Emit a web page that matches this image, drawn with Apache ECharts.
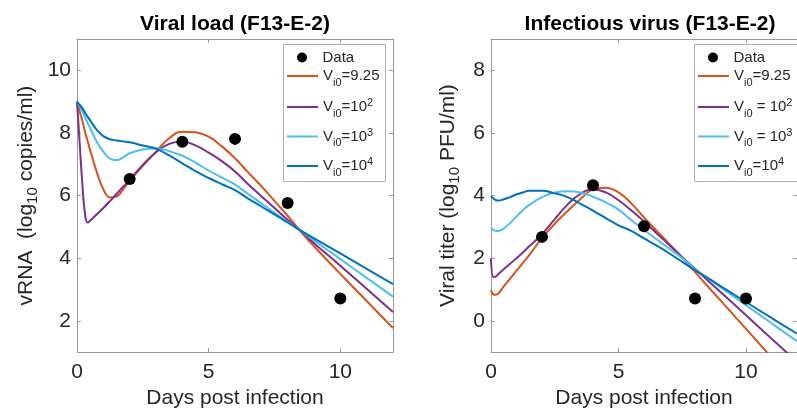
<!DOCTYPE html>
<html>
<head>
<meta charset="utf-8">
<script src="https://cdn.jsdelivr.net/npm/echarts@6/dist/echarts.min.js"></script>
<style>
  html, body { margin: 0; padding: 0; background: #fff; }
  #chart { width: 797px; height: 414px; }
</style>
</head>
<body>
<div id="chart"></div>
<script>
// data
var dataDays = [2, 4, 6, 8, 10];
var rnaData = [6.53, 7.72, 7.81, 5.76, 2.71];
var titerData = [2.68, 4.33, 3.02, 0.71, 0.71];

var rnaDays = [0, 0.1, 0.2, 0.3, 0.4, 0.5, 0.75, 1, 1.25, 1.5, 1.75, 2, 2.5, 3, 3.5, 4, 4.5, 5, 5.5, 6, 6.5, 7, 7.5, 8, 8.5, 9, 10, 11, 12];
var rnaVi925 = [9.0, 8.7, 8.4, 8.05, 7.75, 7.45, 6.75, 6.2, 5.94, 5.97, 6.2, 6.47, 6.95, 7.4, 7.83, 8.04, 8.02, 7.88, 7.57, 7.19, 6.74, 6.3, 5.83, 5.35, 4.85, 4.38, 3.5, 2.63, 1.77];
var rnaVi1e2 = [9.0, 7.7, 6.4, 5.45, 5.14, 5.2, 5.4, 5.6, 5.82, 6.05, 6.28, 6.5, 6.98, 7.38, 7.65, 7.73, 7.6, 7.37, 7.1, 6.77, 6.36, 5.98, 5.6, 5.23, 4.86, 4.48, 3.76, 3.02, 2.28];
var rnaVi1e3 = [9.0, 8.85, 8.7, 8.5, 8.32, 8.15, 7.72, 7.4, 7.18, 7.13, 7.22, 7.35, 7.47, 7.5, 7.42, 7.27, 7.05, 6.8, 6.57, 6.35, 6.05, 5.75, 5.45, 5.16, 4.87, 4.57, 3.97, 3.37, 2.77];
var rnaVi1e4 = [9.0, 8.9, 8.8, 8.65, 8.52, 8.4, 8.1, 7.9, 7.8, 7.76, 7.73, 7.7, 7.6, 7.5, 7.28, 7.03, 6.78, 6.56, 6.36, 6.17, 5.9, 5.65, 5.4, 5.14, 4.88, 4.63, 4.15, 3.66, 3.17];

var titerDays = [0, 0.1, 0.2, 0.3, 0.5, 0.75, 1, 1.25, 1.5, 2, 2.5, 3, 3.5, 4, 4.5, 5, 5.5, 6, 6.5, 7, 7.5, 8, 8.5, 9, 10, 11, 12];
var titerVi925 = [0.98, 0.84, 0.83, 0.88, 1.1, 1.35, 1.6, 1.85, 2.1, 2.64, 3.1, 3.5, 3.88, 4.2, 4.25, 4.1, 3.75, 3.3, 2.87, 2.45, 2.02, 1.56, 1.1, 0.65, -0.26, -1.17, -2.08];
var titerVi1e2 = [2.0, 1.4, 1.42, 1.5, 1.65, 1.82, 2.0, 2.18, 2.38, 2.77, 3.25, 3.71, 4.05, 4.2, 4.1, 3.85, 3.53, 3.17, 2.79, 2.41, 2.03, 1.66, 1.29, 0.92, 0.18, -0.57, -1.31];
var titerVi1e3 = [2.98, 2.9, 2.87, 2.87, 2.95, 3.12, 3.33, 3.53, 3.7, 3.95, 4.1, 4.14, 4.1, 3.96, 3.78, 3.55, 3.22, 2.9, 2.6, 2.3, 2.0, 1.65, 1.36, 1.07, 0.5, -0.08, -0.65];
var titerVi1e4 = [3.98, 3.9, 3.85, 3.84, 3.88, 3.95, 4.04, 4.1, 4.15, 4.15, 4.07, 3.95, 3.74, 3.52, 3.28, 3.05, 2.87, 2.63, 2.4, 2.15, 1.88, 1.62, 1.37, 1.11, 0.6, 0.09, -0.41];

var xTicks = [0, 5, 10];
var rnaTicks = [2, 4, 6, 8, 10];
var titerTicks = [0, 2, 4, 6, 8];

var colors = ['#D95319', '#7E2F8E', '#4DBEEE', '#0072BD'];
var axisGray = '#9a9a9a';
var labelColor = '#262626';
var fam = '"Liberation Sans", Arial, Helvetica, sans-serif';
var lineIcon = 'path://M0,0L31,0L31,2L0,2Z';

function pairs(xs, ys) {
  return xs.map(function (x, i) { return [x, ys[i]]; });
}

var legendText = {
  'L-data': '{d|Data}',
  'L-925': '{v|V}{sub|i0}{v|=9.25}',
  'L-1e2': '{v|V}{sub|i0}{v|=10}{sup|2}',
  'L-1e3': '{v|V}{sub|i0}{v|=10}{sup|3}',
  'L-1e4': '{v|V}{sub|i0}{v|=10}{sup|4}',
  'R-data': '{d|Data}',
  'R-925': '{v|V}{sub|i0}{v|=9.25}',
  'R-1e2': '{v|V}{sub|i0}{v| = 10}{sup|2}',
  'R-1e3': '{v|V}{sub|i0}{v| = 10}{sup|3}',
  'R-1e4': '{v|V}{sub|i0}{v|=10}{sup|4}'
};

var legendRich = {
  d: { fontSize: 15, lineHeight: 10, color: labelColor, fontFamily: fam },
  v: { fontSize: 15, color: labelColor, fontFamily: fam },
  sub: { fontSize: 11, padding: [13, 0, 0, 0], color: labelColor, fontFamily: fam },
  sup: { fontSize: 11, padding: [0, 0, 8, 0], color: labelColor, fontFamily: fam }
};

// row centres of the legend entries
var legendRows = [57, 77, 106, 135.5, 165];
var legendKeys = ['data', '925', '1e2', '1e3', '1e4'];

function legendsFor(prefix, left) {
  return legendKeys.map(function (key, i) {
    var isData = i === 0;
    return {
      orient: 'vertical',
      left: left + (isData ? 14 : 4),
      top: legendRows[i] - (isData ? 7 : 8.5),
      padding: 0,
      itemGap: 0,
      itemWidth: 31,
      itemHeight: isData ? 10 : 30,
      z: 30,
      selectedMode: false,
      data: [{ name: prefix + key, icon: isData ? 'circle' : lineIcon }],
      formatter: function (name) { return legendText[name]; },
      textStyle: { rich: legendRich }
    };
  });
}

function xAxisFor(grid, pos) {
  var main = pos === 'bottom';
  return {
    type: 'value', gridIndex: grid, position: pos, min: 0, max: 12,
    axisLine: { show: true, onZero: false, lineStyle: { color: axisGray, width: 1 } },
    axisTick: { show: true, inside: true, length: 4, customValues: xTicks, lineStyle: { color: axisGray } },
    axisLabel: { show: main, customValues: xTicks, margin: 10, fontSize: 21, color: labelColor, fontFamily: fam },
    splitLine: { show: false },
    name: main ? 'Days post infection' : '',
    nameLocation: 'middle',
    nameGap: 35,
    nameTextStyle: { fontSize: 21, color: labelColor, fontFamily: fam }
  };
}

function yAxisFor(grid, pos, min, max, ticks, name, gap) {
  var main = pos === 'left';
  return {
    type: 'value', gridIndex: grid, position: pos, min: min, max: max,
    axisLine: { show: true, onZero: false, lineStyle: { color: axisGray, width: 1 } },
    axisTick: { show: true, inside: true, length: 4, customValues: ticks, lineStyle: { color: axisGray } },
    axisLabel: { show: main, customValues: ticks, margin: 6, fontSize: 21, color: labelColor, fontFamily: fam },
    splitLine: { show: false },
    name: main ? name : '',
    nameLocation: 'middle',
    nameRotate: 90,
    nameGap: gap,
    nameTextStyle: {
      color: labelColor, fontFamily: fam, fontSize: 21,
      rich: {
        n: { fontSize: 21, color: labelColor, fontFamily: fam },
        s: { fontSize: 15, padding: [12, 0, 0, 0], color: labelColor, fontFamily: fam }
      }
    }
  };
}

function lineSeries(name, grid, xs, ys, color) {
  return {
    name: name, type: 'line', xAxisIndex: grid * 2, yAxisIndex: grid * 2,
    data: pairs(xs, ys), smooth: 0.45, symbol: 'none', showSymbol: false,
    lineStyle: { color: color, width: 2 }, itemStyle: { color: color },
    clip: true, silent: true, animation: false, z: 3
  };
}

function dataSeries(name, grid, ys) {
  return {
    name: name, type: 'scatter', xAxisIndex: grid * 2, yAxisIndex: grid * 2,
    data: pairs(dataDays, ys), symbol: 'circle', symbolSize: 12,
    itemStyle: { color: '#000', opacity: 1 }, silent: true, animation: false, z: 4
  };
}

var chart = echarts.init(document.getElementById('chart'), null, { renderer: 'canvas' });

chart.setOption({
  animation: false,
  backgroundColor: '#fff',
  textStyle: { fontFamily: fam },
  title: [
    { text: 'Viral load (F13-E-2)', left: 235, top: 14, textAlign: 'center', padding: 0,
      textStyle: { fontSize: 21, fontWeight: 'bold', color: '#000', fontFamily: fam } },
    { text: 'Infectious virus (F13-E-2)', left: 650, top: 14, textAlign: 'center', padding: 0,
      textStyle: { fontSize: 21, fontWeight: 'bold', color: '#000', fontFamily: fam } }
  ],
  grid: [
    { left: 77, top: 39, width: 316, height: 316 },
    { left: 491, top: 39, width: 318, height: 316 }
  ],
  graphic: [
    { type: 'rect', z: 20, silent: true, shape: { x: 283.5, y: 44.5, width: 102, height: 137 },
      style: { fill: '#fff', stroke: '#b0b0b0', lineWidth: 1 } },
    { type: 'rect', z: 20, silent: true, shape: { x: 694.5, y: 44.5, width: 130, height: 137 },
      style: { fill: '#fff', stroke: '#b0b0b0', lineWidth: 1 } }
  ],
  legend: legendsFor('L-', 283).concat(legendsFor('R-', 694)),
  xAxis: [xAxisFor(0, 'bottom'), xAxisFor(0, 'top'), xAxisFor(1, 'bottom'), xAxisFor(1, 'top')],
  yAxis: [
    yAxisFor(0, 'left', 1, 11, rnaTicks, '{n|vRNA  (log}{s|10}{n| copies/ml)}', 37),
    yAxisFor(0, 'right', 1, 11, rnaTicks, '', 0),
    yAxisFor(1, 'left', -1, 9, titerTicks, '{n|Viral titer (log}{s|10}{n| PFU/ml)}', 29),
    yAxisFor(1, 'right', -1, 9, titerTicks, '', 0)
  ],
  series: [
    dataSeries('L-data', 0, rnaData),
    lineSeries('L-925', 0, rnaDays, rnaVi925, colors[0]),
    lineSeries('L-1e2', 0, rnaDays, rnaVi1e2, colors[1]),
    lineSeries('L-1e3', 0, rnaDays, rnaVi1e3, colors[2]),
    lineSeries('L-1e4', 0, rnaDays, rnaVi1e4, colors[3]),
    dataSeries('R-data', 1, titerData),
    lineSeries('R-925', 1, titerDays, titerVi925, colors[0]),
    lineSeries('R-1e2', 1, titerDays, titerVi1e2, colors[1]),
    lineSeries('R-1e3', 1, titerDays, titerVi1e3, colors[2]),
    lineSeries('R-1e4', 1, titerDays, titerVi1e4, colors[3])
  ]
});
</script>
</body>
</html>
